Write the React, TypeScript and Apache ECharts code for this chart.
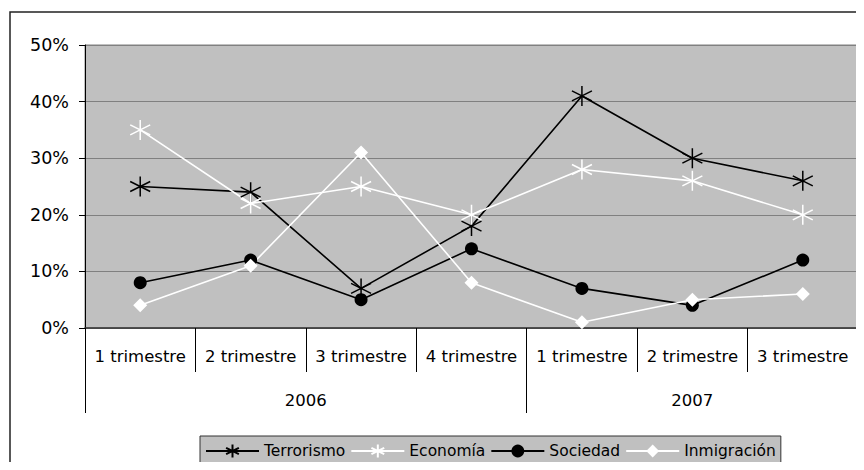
import React, { useEffect, useRef } from "react";
import * as echarts from "echarts";

const categories = ["1 trimestre", "2 trimestre", "3 trimestre", "4 trimestre", "1 trimestre", "2 trimestre", "3 trimestre"];
const years = ["2006", "2007"];
const yearCenters = [2, 5.5];
const yearBounds = [0, 4, 7];
const terrorismo = [25, 24, 7, 18, 41, 30, 26];
const economia = [35, 22, 25, 20, 28, 26, 20];
const sociedad = [8, 12, 5, 14, 7, 4, 12];
const inmigracion = [4, 11, 31, 8, 1, 5, 6];

const STAR = "path://M10,0 L10,20 M1,5 L19,15 M1,15 L19,5";
const FONT = "DejaVu Sans";

export default function App() {
  const ref = useRef<HTMLDivElement>(null);
  useEffect(() => {
    if (!ref.current) return;
    const chart = echarts.init(ref.current, null, { renderer: "svg" });
    const mk = (name: string, data: number[], color: string, symbol: string, size: number, star: boolean) => ({
      name,
      type: "line",
      data,
      symbol,
      symbolSize: size,
      lineStyle: { color, width: 1.6 },
      itemStyle: star
        ? { color, borderColor: color, borderWidth: 1.5 }
        : { color, borderColor: color, borderWidth: 0 },
      emphasis: { disabled: true },
    });
    chart.setOption({
      animation: false,
      textStyle: { fontFamily: FONT },
      grid: {
        left: 85,
        right: 6,
        top: 45,
        bottom: 142,
        show: true,
        backgroundColor: "#c0c0c0",
        borderColor: "#808080",
        borderWidth: 1,
      },
      graphic: [
        {
          type: "rect",
          shape: { x: 10, y: 12, width: 900, height: 500 },
          style: { fill: "none", stroke: "#222", lineWidth: 1.5 },
          z: 0,
        },
      ],
      legend: {
        top: 436,
        left: 200,
        backgroundColor: "#c0c0c0",
        borderColor: "#333",
        borderWidth: 1,
        padding: [7, 5, 20, 5],
        itemGap: 5,
        itemWidth: 53,
        itemHeight: 16,
        textStyle: { fontFamily: FONT, fontSize: 15.5, color: "#000" },
        data: ["Terrorismo", "Economía", "Sociedad", "Inmigración"],
      },
      xAxis: [
        {
          type: "category",
          data: categories,
          boundaryGap: true,
          axisLine: { lineStyle: { color: "#333", width: 1.5 } },
          axisTick: { show: true, interval: 0, length: 44, lineStyle: { color: "#000", width: 1 } },
          axisLabel: { interval: 0, fontSize: 16.5, color: "#000", margin: 20, fontFamily: FONT },
        },
        {
          type: "value",
          position: "bottom",
          min: 0,
          max: 7,
          axisLine: { show: false },
          splitLine: { show: false },
          axisTick: { show: true, customValues: yearBounds, length: 85, lineStyle: { color: "#000", width: 1 } },
          axisLabel: {
            customValues: yearCenters,
            fontSize: 16.5,
            color: "#000",
            margin: 64,
            fontFamily: FONT,
            formatter: (v: number) => years[yearCenters.indexOf(v)] ?? "",
          },
        },
      ],
      yAxis: {
        type: "value",
        min: 0,
        max: 50,
        interval: 10,
        axisLine: { show: true, lineStyle: { color: "#000", width: 1 } },
        axisTick: { show: true, length: 6, lineStyle: { color: "#000" } },
        axisLabel: { formatter: "{value}%", fontSize: 17.5, color: "#000", margin: 16, fontFamily: FONT },
        splitLine: { lineStyle: { color: "#808080", width: 1 } },
      },
      series: [
        mk("Terrorismo", terrorismo, "#000", STAR, 20, true),
        mk("Economía", economia, "#fff", STAR, 20, true),
        mk("Sociedad", sociedad, "#000", "circle", 13, false),
        mk("Inmigración", inmigracion, "#fff", "diamond", 14, false),
      ],
    });
    return () => chart.dispose();
  }, []);
  return <div ref={ref} style={{ width: 864, height: 470, margin: -8, background: "#fff" }} />;
}
